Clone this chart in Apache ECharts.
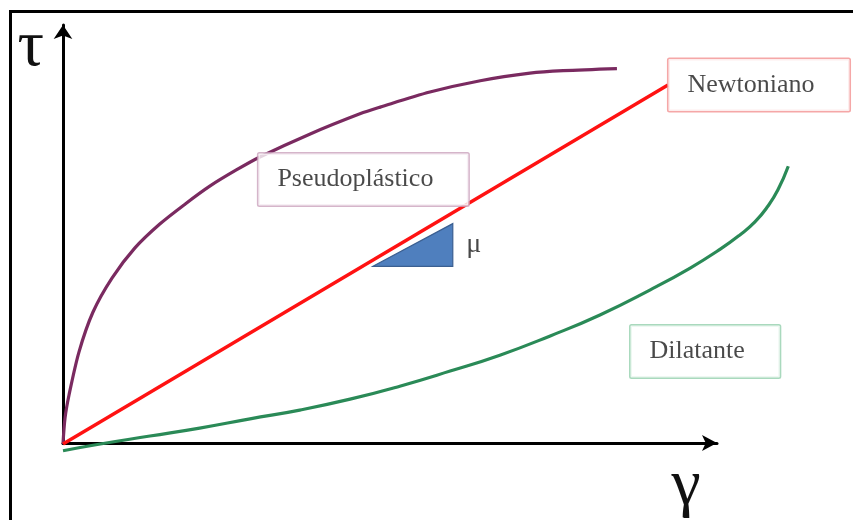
<!DOCTYPE html>
<html>
<head>
<meta charset="utf-8">
<script src="https://cdn.jsdelivr.net/npm/echarts@6/dist/echarts.min.js"></script>
<style>
  html, body { margin: 0; padding: 0; background: #fff; }
  #wrap { position: relative; width: 853px; height: 520px; overflow: hidden; }
  #chart { position: absolute; left: 0; top: 0; width: 853px; height: 520px; }
  #frame { position: absolute; left: 9px; top: 10px; width: 900px; height: 600px;
           border-top: 3px solid #000; border-left: 3px solid #000; pointer-events: none; }
</style>
</head>
<body>
<div id="wrap">
  <div id="chart"></div>
  <div id="frame"></div>
</div>
<script>
// Rheological curves: shear stress (τ) versus shear rate (γ)
const fluidNames = ['Newtoniano', 'Pseudoplástico', 'Dilatante'];

// Newtonian fluid: straight line through the origin
const newtoniano = [[0, 0], [92.5, 85.7]];

// Shear-thinning fluid
const pseudoplastico = [
  [0, 0], [0.31, 6.2], [0.92, 11.7], [2.45, 22.0], [4.59, 31.5], [7.49, 39.6],
  [11.0, 46.8], [14.8, 52.5], [18.7, 57.3], [22.5, 61.6], [26.5, 65.4],
  [30.1, 68.5], [37.8, 74.0], [45.4, 78.8], [48.5, 80.4], [56.1, 84.0],
  [63.8, 86.7], [71.4, 88.5], [76.5, 89.1], [84.7, 89.6]
];

// Shear-thickening fluid
const dilatante = [
  [0, -1.6], [5.7, 0], [13.3, 1.9], [20.9, 3.8], [28.6, 6.0], [36.2, 8.1],
  [43.9, 10.7], [51.5, 13.8], [59.2, 17.4], [66.8, 21.2], [74.5, 25.8],
  [82.1, 30.8], [89.8, 36.8], [95.9, 42.0], [100.5, 46.5], [103.5, 49.9],
  [105.8, 53.0], [107.8, 56.8], [109.3, 60.6], [110.9, 66.3]
];

// Slope triangle under the Newtonian line (viscosity μ)
const triangulo = [[47.4, 42.4], [59.6, 52.6], [59.6, 42.4]];
const slopeSymbol = 'μ';

const serif = '"Liberation Serif", "Times New Roman", serif';

// Plot area: the visible axes span 0–100; the curves share the same scale
// but run slightly past the arrow tip, so they live on a wider twin grid.
const plot = { left: 63, top: 25, bottom: 76, width: 654 };
const curveMaxX = 112;

function boxLabel(borderColor) {
  return {
    show: true,
    position: 'right',
    distance: 0,
    formatter: '{b}',
    fontFamily: serif,
    fontSize: 26,
    lineHeight: 30,
    color: '#1c1c1c',
    backgroundColor: '#fff',
    borderColor: borderColor,
    borderWidth: 1.5,
    borderRadius: 1,
    padding: [11, 35, 11, 19]
  };
}

const hiddenAxis = {
  axisLine: { show: false }, axisTick: { show: false },
  axisLabel: { show: false }, splitLine: { show: false }
};

const chart = echarts.init(document.getElementById('chart'));
chart.setOption({
  animation: false,
  backgroundColor: '#fff',
  grid: [
    { left: plot.left, top: plot.top, bottom: plot.bottom, width: plot.width },
    { left: plot.left, top: plot.top, bottom: plot.bottom, width: plot.width * curveMaxX / 100 }
  ],
  xAxis: [
    {
      type: 'value', gridIndex: 0, min: 0, max: 100,
      name: 'γ', nameLocation: 'end', nameGap: -31,
      nameTextStyle: { fontFamily: serif, fontSize: 66, color: '#111', align: 'center', verticalAlign: 'top', padding: [11, 0, 0, 0] },
      axisLine: { show: true, onZero: false, symbol: ['none', 'arrow'], symbolSize: [12, 15], lineStyle: { color: '#000', width: 3 } },
      axisTick: { show: false }, axisLabel: { show: false }, splitLine: { show: false }
    },
    Object.assign({ type: 'value', gridIndex: 1, min: 0, max: curveMaxX }, hiddenAxis)
  ],
  yAxis: [
    {
      type: 'value', gridIndex: 0, min: 0, max: 100,
      name: 'τ', nameLocation: 'end', nameGap: 12,
      nameTextStyle: { fontFamily: serif, fontSize: 66, color: '#111', align: 'right', verticalAlign: 'top', padding: [2, 19, 0, 0] },
      axisLine: { show: true, onZero: false, symbol: ['none', 'arrow'], symbolSize: [14, 14], lineStyle: { color: '#000', width: 3 } },
      axisTick: { show: false }, axisLabel: { show: false }, splitLine: { show: false }
    },
    Object.assign({ type: 'value', gridIndex: 1, min: 0, max: 100 }, hiddenAxis)
  ],
  series: [
    {
      type: 'custom', xAxisIndex: 1, yAxisIndex: 1, z: 1, clip: false,
      data: triangulo,
      renderItem: function (params, api) {
        if (params.dataIndex !== 0) return null;
        return {
          type: 'polygon',
          shape: { points: triangulo.map(function (p) { return api.coord(p); }) },
          style: { fill: '#4f7fbe', stroke: '#3b5f91', lineWidth: 1.2 }
        };
      }
    },
    {
      name: fluidNames[1], type: 'line', xAxisIndex: 1, yAxisIndex: 1, z: 2, clip: false,
      showSymbol: false, smooth: 0.3, data: pseudoplastico,
      lineStyle: { color: '#7a2a60', width: 3.2 }
    },
    {
      name: fluidNames[2], type: 'line', xAxisIndex: 1, yAxisIndex: 1, z: 2, clip: false,
      showSymbol: false, smooth: 0.5, data: dilatante,
      lineStyle: { color: '#2a8a57', width: 3.2 }
    },
    {
      name: fluidNames[0], type: 'line', xAxisIndex: 1, yAxisIndex: 1, z: 3, clip: false,
      showSymbol: false, data: newtoniano,
      lineStyle: { color: '#ff1212', width: 3.4 }
    },
    {
      type: 'scatter', xAxisIndex: 1, yAxisIndex: 1, z: 5, clip: false, symbolSize: 1,
      itemStyle: { color: 'rgba(0,0,0,0)' },
      data: [
        { name: fluidNames[0], value: newtoniano[newtoniano.length - 1], label: boxLabel('#f29191') },
        { name: fluidNames[1], value: [29.8, 63.1], label: boxLabel('#caa3bd') },
        { name: fluidNames[2], value: [86.7, 22.1], label: boxLabel('#93cfad') },
        { name: slopeSymbol, value: [62.8, 47.5],
          label: { show: true, position: 'inside', formatter: '{b}', fontFamily: serif, fontSize: 28, color: '#1c1c1c' } }
      ]
    }
  ]
});
</script>
</body>
</html>
